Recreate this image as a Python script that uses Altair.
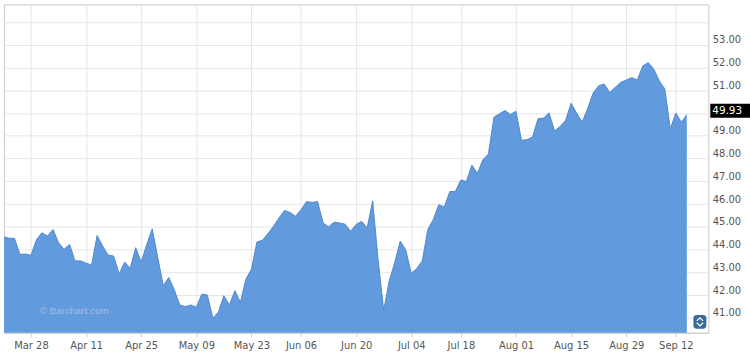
import altair as alt
import pandas as pd
import numpy as np

# Closing prices (one per trading day, 2016-03-18 .. 2016-09-14)
prices = [
    44.56, 44.50, 44.49, 43.79, 43.80, 43.75, 44.44, 44.74, 44.59, 44.88,
    44.30, 44.01, 44.22, 43.50, 43.50, 43.40, 43.32, 44.62, 44.15, 43.76,
    43.71, 42.92, 43.45, 43.17, 44.08, 43.45, 44.22, 44.91, 43.65, 42.41,
    42.77, 42.23, 41.56, 41.49, 41.56, 41.46, 42.04, 42.00, 40.98, 41.25,
    41.97, 41.56, 42.19, 41.68, 42.70, 43.13, 44.33, 44.41, 44.70, 45.02,
    45.39, 45.72, 45.63, 45.46, 45.75, 46.11, 46.07, 46.11, 45.17, 45.00,
    45.20, 45.17, 45.11, 44.80, 45.10, 45.24, 44.95, 46.14, 43.50, 41.32,
    42.62, 43.43, 44.37, 43.98, 42.95, 43.17, 43.50, 44.88, 45.32, 45.97,
    45.87, 46.55, 46.55, 47.06, 46.99, 47.71, 47.35, 47.95, 48.20, 49.82,
    49.97, 50.11, 49.94, 50.08, 48.80, 48.83, 48.95, 49.75, 49.78, 50.01,
    49.21, 49.41, 49.68, 50.43, 50.00, 49.60, 50.20, 50.88, 51.20, 51.28,
    50.91, 51.13, 51.35, 51.45, 51.56, 51.45, 52.07, 52.22, 51.93, 51.42,
    51.06, 49.31, 50.00, 49.60, 49.93,
]
holidays = ["2016-03-25", "2016-05-30", "2016-07-04", "2016-09-05"]
tick_dates = ["2016-03-28", "2016-04-11", "2016-04-25", "2016-05-09", "2016-05-23",
              "2016-06-06", "2016-06-20", "2016-07-04", "2016-07-18", "2016-08-01",
              "2016-08-15", "2016-08-29", "2016-09-12"]
tick_labels = ["Mar 28", "Apr 11", "Apr 25", "May 09", "May 23", "Jun 06", "Jun 20",
               "Jul 04", "Jul 18", "Aug 01", "Aug 15", "Aug 29", "Sep 12"]
y_ticks = [41, 42, 43, 44, 45, 46, 47, 48, 49, 50, 51, 52, 53, 54]
last_price = 49.93

days = pd.bdate_range("2016-03-18", "2016-09-14")
days = days[~days.isin(pd.to_datetime(holidays))]
dates = np.array([d.strftime("%Y-%m-%d") for d in days])
n = min(len(dates), len(prices))
df = pd.DataFrame({"date": dates[:n], "i": np.arange(n), "price": prices[:n]})

tick_idx = [int(np.searchsorted(dates, d)) for d in tick_dates]
x_expr = ""
for ti, tl in zip(tick_idx, tick_labels):
    x_expr += f"datum.value == {ti} ? '{tl}' : "
x_expr += "''"

FONT = "DejaVu Sans"
GRID = "#e6e6e6"
YDOM = [40.34, 54.78]

x = alt.X("i:Q", scale=alt.Scale(domain=[0.1, 127.9], nice=False, zero=False),
          axis=alt.Axis(values=tick_idx, labelExpr=x_expr, title=None, grid=True,
                        gridColor=GRID, tickSize=4, tickColor="#cccccc",
                        domainColor="#cccccc", labelColor="#555555", labelFont=FONT,
                        labelFontSize=10, labelPadding=4, labelFlush=False,
                        labelOverlap=False))
y = alt.Y("price:Q", scale=alt.Scale(domain=YDOM, nice=False, zero=False),
          axis=alt.Axis(orient="right", values=y_ticks, title=None, grid=True,
                        gridColor=GRID, tickSize=0, domain=False,
                        labelExpr="datum.value == 50 || datum.value == 54 ? '' : format(datum.value, '.2f')",
                        labelColor="#555555", labelFont=FONT, labelFontSize=10,
                        labelPadding=4, labelBaseline="bottom", labelFlush=False,
                        labelOverlap=False, labelSeparation=0))

area = alt.Chart(df).mark_area(
    color="#629ade", opacity=1, clip=True,
    line={"color": "#5288cc", "strokeWidth": 1},
).encode(x=x, y=y)

one = pd.DataFrame({"price": [last_price], "t": [f"{last_price:.2f}"]})
box = alt.Chart(one).mark_rect(color="black", yOffset=-11, y2Offset=3).encode(
    x=alt.value(712), x2=alt.value(752), y=y, y2="price:Q",
)
box_text = alt.Chart(one).mark_text(align="left", baseline="middle", color="white",
                                    font=FONT, fontSize=10.5, dy=-4).encode(
    x=alt.value(714), y=y, text="t:N",
)

wm = pd.DataFrame({"t": ["\u00a9 Barchart.com"]})
watermark = alt.Chart(wm).mark_text(align="left", baseline="middle", color="#a3bde0",
                                    font="Liberation Sans", fontSize=10).encode(
    x=alt.value(36), y=alt.value(309), text="t:N")

icon_df = pd.DataFrame({"k": [1]})
icon = alt.Chart(icon_df).mark_rect(color="#3a6a9b", cornerRadius=3).encode(
    x=alt.value(695), x2=alt.value(708), y=alt.value(313), y2=alt.value(327))
chev_up = alt.Chart(icon_df).mark_point(shape="M-1,0.5L0,-0.5L1,0.5", size=40,
                                        filled=False, color="white", strokeWidth=1.2,
                                        opacity=1).encode(
    x=alt.value(701.5), y=alt.value(317.5))
chev_dn = alt.Chart(icon_df).mark_point(shape="M-1,-0.5L0,0.5L1,-0.5", size=40,
                                        filled=False, color="white", strokeWidth=1.2,
                                        opacity=1).encode(
    x=alt.value(701.5), y=alt.value(322.5))

chart = alt.layer(area, watermark, icon, chev_up, chev_dn, box, box_text).properties(
    width=710, height=331,
    padding={"left": 4, "top": 3, "right": 0, "bottom": 0},
    background="white",
).configure_view(stroke="#c8c8c8", strokeWidth=1).configure_axis(labelOverlap=False)

chart.save("out.html", embed_options={"renderer": "svg", "actions": False})
